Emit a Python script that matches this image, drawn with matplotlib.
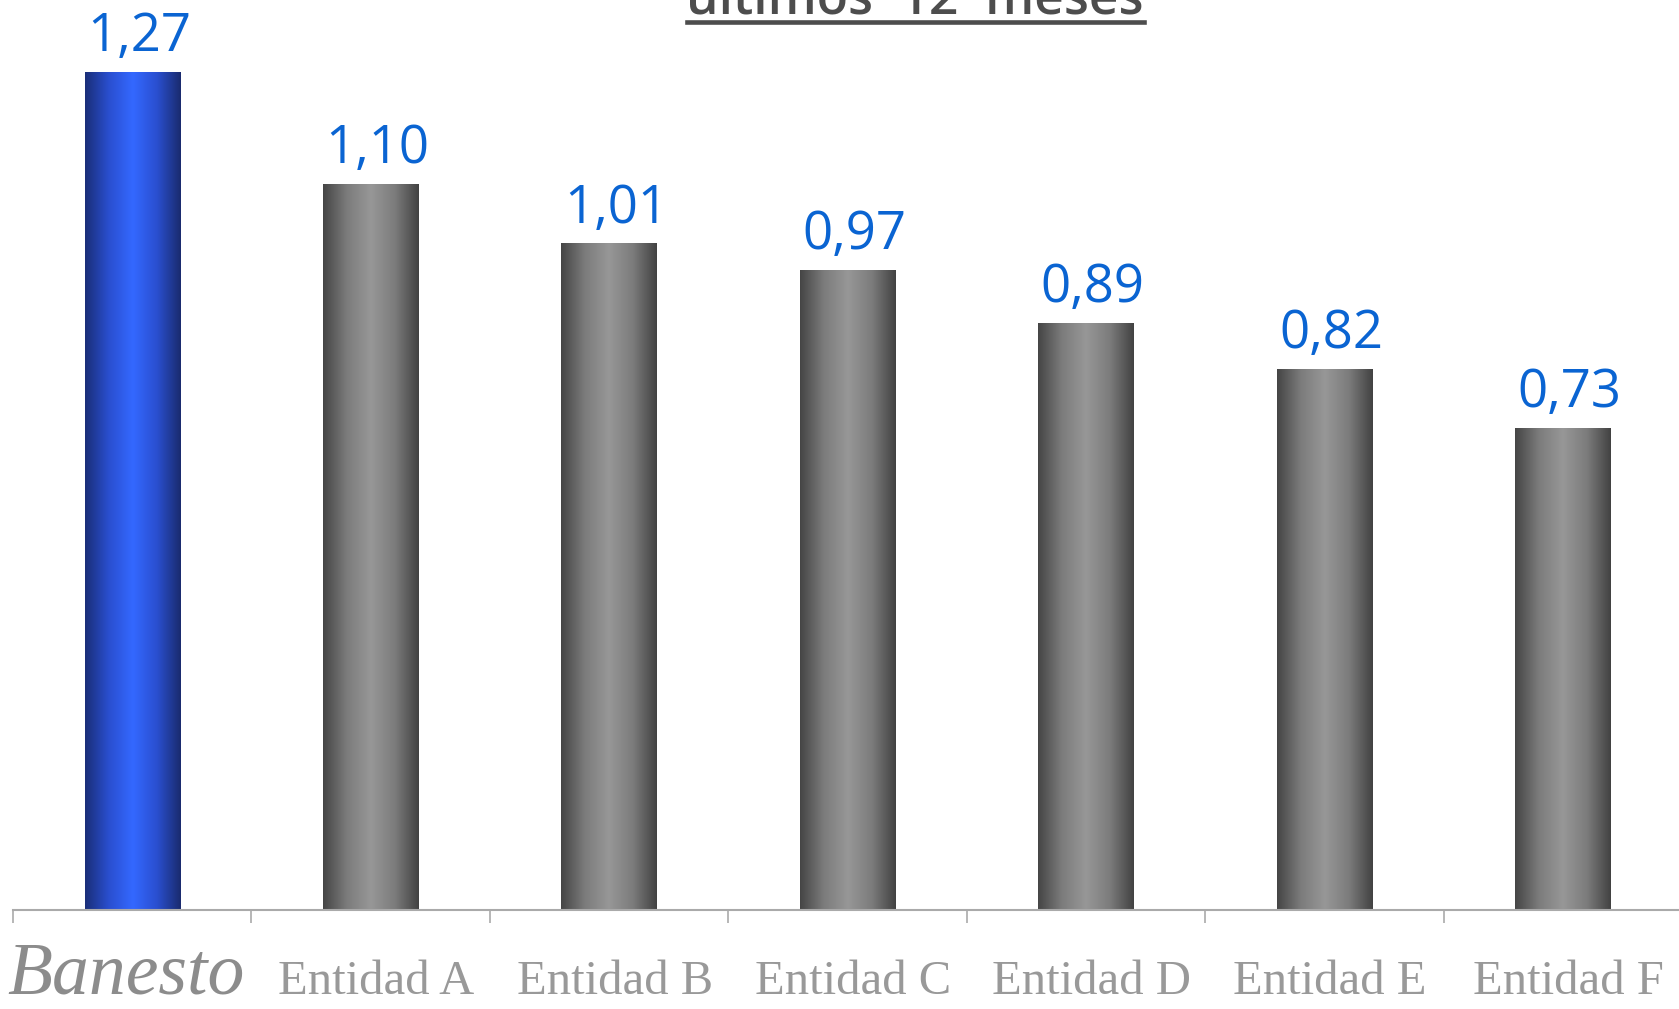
"""
Bar chart: Banesto vs peers, last 12 months
"""
import numpy as np
import matplotlib
matplotlib.use("Agg")
import matplotlib.pyplot as plt
from matplotlib.colors import LinearSegmentedColormap
from matplotlib.lines import Line2D
from matplotlib.transforms import blended_transform_factory, offset_copy

# data
categories = ["Banesto", "Entidad A", "Entidad B", "Entidad C",
              "Entidad D", "Entidad E", "Entidad F"]
values = [1.27, 1.10, 1.01, 0.97, 0.89, 0.82, 0.73]
value_labels = ["1,27", "1,10", "1,01", "0,97", "0,89", "0,82", "0,73"]
title_text = "últimos  12  meses"

W, H, DPI = 1679, 1009, 100
fig = plt.figure(figsize=(W / DPI, H / DPI), dpi=DPI)

# axes geometry in pixels (baseline at y=910, categories 238.5 px wide)
x0, x1 = 13, 1682
y_base = 910
px_per_unit = 660.0
ax = fig.add_axes([x0 / W, (H - y_base) / H, (x1 - x0) / W, y_base / H])

blue_cmap = LinearSegmentedColormap.from_list(
    "blue_grad", ["#1a2e78", "#2a4fd0", "#3468ff", "#2a4fd0", "#1a2b6e"])
gray_cmap = LinearSegmentedColormap.from_list(
    "gray_grad", ["#454545", "#7c7c7c", "#979797", "#7c7c7c", "#424242"])

bars = ax.bar(range(len(categories)), values, width=0.40, color="none",
              edgecolor="none")
grad = np.linspace(0, 1, 256).reshape(1, -1)
for i, b in enumerate(bars):
    cmap = blue_cmap if i == 0 else gray_cmap
    bx, by = b.get_x(), b.get_y()
    bw, bh = b.get_width(), b.get_height()
    im = ax.imshow(grad, cmap=cmap, aspect="auto",
                   extent=(bx, bx + bw, by, by + bh), zorder=2)
    im.set_clip_path(b)

ax.set_xlim(-0.5, len(categories) - 0.5)
ax.set_ylim(0, y_base / px_per_unit)

for i, (v, lab) in enumerate(zip(values, value_labels)):
    ax.annotate(lab, (i, v), xytext=(5, 15), textcoords="offset points",
                ha="center", va="baseline", fontsize=38,
                family="Open Sans", color="#0a64d2")

# spines / ticks
for s in ["top", "right", "left"]:
    ax.spines[s].set_visible(False)
ax.spines["bottom"].set_color("#aaaaaa")
ax.spines["bottom"].set_linewidth(1.5)
ax.set_yticks([])
ax.set_xticks(np.arange(-0.5, len(categories)), minor=True)
ax.tick_params(axis="x", which="minor", length=9.5, width=1.2,
               color="#aaaaaa", direction="out")
ax.set_xticks(range(len(categories)))
ax.set_xticklabels([])
ax.tick_params(axis="x", which="major", length=0)

# category labels; the first one drawn like the logo (larger italic serif)
base = blended_transform_factory(ax.transData, fig.transFigure)
trans = offset_copy(base, fig=fig, x=4, y=0, units="points")
logo_trans = offset_copy(base, fig=fig, x=-4.5, y=0, units="points")
for i, cat in enumerate(categories):
    if i == 0:
        ax.text(i, 1 - 994 / H, cat, transform=logo_trans, ha="center",
                va="baseline", family="Liberation Serif", style="italic",
                fontsize=53, color="#8c8c8c")
    else:
        ax.text(i, 1 - 994 / H, cat, transform=trans, ha="center",
                va="baseline", family="Liberation Serif", fontsize=35,
                color="#999999")

# cut-off title with underline
fig.text(915 / W, 1 - 13 / H, title_text, ha="center", va="baseline",
         fontsize=37, family="Open Sans", fontweight="semibold",
         color="#4d4d4d")
fig.add_artist(Line2D([687 / W, 1144 / W], [1 - 21.5 / H, 1 - 21.5 / H],
                      transform=fig.transFigure, color="#4d4d4d",
                      linewidth=3.3))

fig.savefig("out.png", dpi=DPI)
